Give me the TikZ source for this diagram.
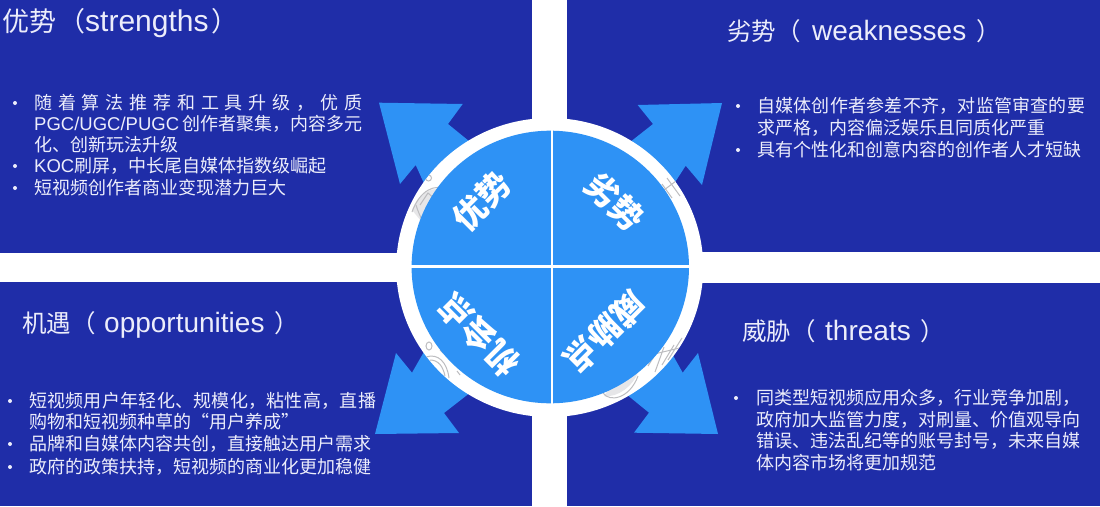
\documentclass[tikz,border=0pt]{standalone}
\usepackage{fontspec}
\setmainfont{Noto Sans CJK SC}
\newfontfamily\latf{Liberation Sans}
\definecolor{navy}{HTML}{1F2DA8}
\definecolor{sky}{HTML}{2E92F5}
\definecolor{pale}{HTML}{ECEDFB}
\definecolor{mark}{HTML}{BDBDC0}
\definecolor{marklight}{HTML}{E6E6E8}
\tikzset{
  panel/.style={fill=navy,draw=none},
  burst/.style={fill=sky,draw=none},
  title/.style={anchor=west,inner sep=0pt,text=pale,font=\fontsize{24.5}{24.5}\selectfont},
  bigtitle/.style={anchor=west,inner sep=0pt,text=pale,font=\fontsize{27}{27}\selectfont},
  body/.style={anchor=west,inner sep=0pt,text=pale,font=\fontsize{18}{18}\selectfont},
  dot/.style={circle,fill=pale,inner sep=0pt,minimum size=4pt},
  quad/.style={inner sep=0pt,text=white,font=\bfseries\fontsize{33}{33}\selectfont},
  scribble/.style={draw=mark,line width=1pt}
}
\newcommand{\spreadline}[2]{\hbox to #1{#2}}
\newcommand{\bl}[1]{{\latf\fontsize{18.5}{18.5}\selectfont #1}}
\newcommand{\tl}[1]{{\latf\fontsize{28}{28}\selectfont #1}}
\newcommand{\tlb}[1]{{\latf\fontsize{30}{30}\selectfont #1}}
\begin{document}
\begin{tikzpicture}[x=1pt,y=-1pt]
\useasboundingbox (0,0) rectangle (1100,506);
\fill[white] (0,0) rectangle (1100,506);
% panels
\fill[panel] (0,0) rectangle (532,253);
\fill[panel] (567,0) rectangle (1100,252);
\fill[panel] (0,282) rectangle (532,506);
\fill[panel] (567,283) rectangle (1100,506);
% arrows
\fill[burst] (379,102.7) -- (462.7,104) -- (448,124) -- (480,150) -- (427,190) -- (415.7,165) -- (400,184) -- cycle;
\fill[burst] (722,103) -- (637.7,105) -- (653,124) -- (620,150) -- (670,190) -- (685.7,165.7) -- (702,185) -- cycle;
\fill[burst] (375,434) -- (459,433) -- (444,413) -- (480,385) -- (425,350) -- (412,372.7) -- (396,353) -- cycle;
\fill[burst] (718,434) -- (634,432.7) -- (649,412.7) -- (615,385) -- (670,350) -- (682.7,372.7) -- (698,353) -- cycle;
% disc
\fill[white] (549.7,267.5) ellipse [x radius=153.5,y radius=149.5];
% faint marks on the ring
\begin{scope}
\clip (549.7,267.5) ellipse [x radius=153.5,y radius=149.5];
\draw[scribble] (428.5,178) circle (3);
\fill[marklight] (412,210) .. controls (420,190) and (435,185) .. (448,192) -- (430,232) -- cycle;
\draw[scribble] (412,212) .. controls (420,190) and (435,183) .. (448,190);
\draw[scribble] (416,205) .. controls (420,218) and (425,225) .. (430,232);
\draw[scribble] (420,205) -- (428,193) -- (436,200);
\draw[scribble] (667,178) -- (680,196) (674,176) -- (685,190) (662,184) -- (672,198) (664,190) -- (680,178);
\draw[scribble] (429,346) ellipse [x radius=3,y radius=4];
\draw[scribble] (426,357) .. controls (438,353) and (447,362) .. (449,378);
\draw[scribble] (430,360) .. controls (438,360) and (443,366) .. (445,376);
\draw[scribble] (457,371) -- (460,375) (440,350) -- (443,353);
\fill[marklight] (604,396) .. controls (618,398) and (634,385) .. (638,372) -- (612,385) -- cycle;
\draw[scribble] (603,393) .. controls (610,403) and (630,398) .. (638,376);
\draw[scribble] (606,391) .. controls (618,385) and (628,380) .. (636,372);
\draw[scribble] (648,366) -- (658,350) (655,372) -- (664,347) (662,365) -- (674,345) (668,360) -- (682,338) (650,355) -- (684,347);
\end{scope}
\fill[sky] (550.3,267) ellipse [x radius=138.7,y radius=136.3];
\fill[white] (550.6,125) rectangle (553,410);
\fill[white] (405,264.5) rectangle (695,267.5);
% quadrant labels
\node[quad,rotate=45] (qa) at (482,201) {优势};
\node[quad,rotate=-45] (qb) at (615,202) {劣势};
\node[quad,rotate=135] (qc) at (479,335) {机会点};
\node[quad,rotate=225] (qd) at (605,332) {威胁点};
% titles
\node[bigtitle] (ta) at (2,23) {优势\hspace{2pt}（\tlb{strengths}\hspace{3pt}）};
\node[title] (tb) at (727,31) {劣势（\hspace{11.5pt}\tl{weaknesses}\hspace{10.5pt}）};
\node[title] (tc) at (22,325) {机遇（\hspace{8.5pt}\tl{opportunities}\hspace{9.5pt}）};
\node[title] (td) at (742,331) {威胁（\hspace{9.5pt}\tl{threats}\hspace{9.5pt}）};
% top left
\node[dot] (d1) at (15,103) {};
\node[dot] (d2) at (15,166) {};
\node[dot] (d3) at (15,188) {};
\node[body] (a1) at (34,103) {\spreadline{328pt}{随\hfil 着\hfil 算\hfil 法\hfil 推\hfil 荐\hfil 和\hfil 工\hfil 具\hfil 升\hfil 级\hfil ，\hfil 优\hfil 质}};
\node[body] (a2) at (34,124) {\spreadline{328pt}{\bl{PGC/UGC/PUGC}\hfil 创作者聚集，内容多元}};
\node[body] (a3) at (34,145) {化、创新玩法升级};
\node[body] (a4) at (34,166) {\bl{KOC}刷屏，中长尾自媒体指数级崛起};
\node[body] (a5) at (34,188) {短视频创作者商业变现潜力巨大};
% top right
\node[dot] (d4) at (738,106) {};
\node[dot] (d5) at (738,150) {};
\node[body] (b1) at (757,106) {\addfontfeature{LetterSpace=1.3}自媒体创作者参差不齐，对监管审查的要};
\node[body] (b2) at (757,128) {求严格，内容偏泛娱乐且同质化严重};
\node[body] (b3) at (757,150) {具有个性化和创意内容的创作者人才短缺};
% bottom left
\node[dot] (d6) at (10,401) {};
\node[dot] (d7) at (10,444) {};
\node[dot] (d8) at (10,467) {};
\node[body] (c1) at (29,401) {\addfontfeature{LetterSpace=1.5}短视频用户年轻化、规模化，粘性高，直播};
\node[body] (c2) at (29,422) {购物和短视频种草的“用户养成”};
\node[body] (c3) at (29,444) {品牌和自媒体内容共创，直接触达用户需求};
\node[body] (c4) at (29,467) {政府的政策扶持，短视频的商业化更加稳健};
% bottom right
\node[dot] (d9) at (736,398) {};
\node[body] (e1) at (756,398) {同类型短视频应用众多，行业竞争加剧，};
\node[body] (e2) at (756,420) {政府加大监管力度，对刷量、价值观导向};
\node[body] (e3) at (756,441) {错误、违法乱纪等的账号封号，未来自媒};
\node[body] (e4) at (756,463) {体内容市场将更加规范};
\end{tikzpicture}
\end{document}
